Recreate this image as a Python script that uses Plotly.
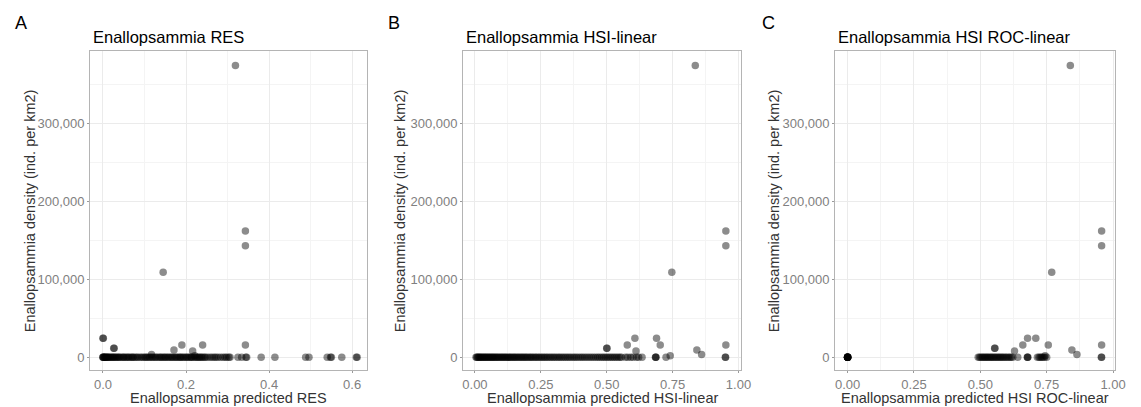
import plotly.graph_objects as go

# Sites with a non-zero Enallopsammia density and their predictions under each model
density_pos = [374000, 162000, 143000, 109000, 24400, 24400, 15800, 15800, 15800,
               11500, 11500, 9400, 8100, 3500, 2000]
res_pos = [0.319, 0.343, 0.343, 0.145, 0.000, 0.001, 0.190, 0.240, 0.343,
           0.026, 0.027, 0.171, 0.216, 0.117, 0.221]
hsi_pos = [0.836, 0.952, 0.952, 0.747, 0.607, 0.689, 0.578, 0.703, 0.952,
           0.500, 0.501, 0.842, 0.611, 0.860, 0.741]
roc_pos = [0.839, 0.957, 0.957, 0.769, 0.678, 0.709, 0.660, 0.756, 0.957,
           0.554, 0.555, 0.845, 0.629, 0.864, 0.744]

# Predictions at sites where no Enallopsammia were recorded (density = 0)
res_zero = [0.000, 0.000, 0.001, 0.002, 0.003, 0.005, 0.006, 0.008, 0.009, 0.011,
            0.013, 0.014, 0.017, 0.019, 0.022, 0.024, 0.026, 0.029, 0.031, 0.034,
            0.037, 0.039, 0.042, 0.046, 0.049, 0.051, 0.055, 0.058, 0.061, 0.064,
            0.068, 0.071, 0.073, 0.077, 0.081, 0.084, 0.089, 0.093, 0.097, 0.101,
            0.104, 0.107, 0.111, 0.114, 0.118, 0.121, 0.125, 0.128, 0.132, 0.136,
            0.139, 0.142, 0.146, 0.149, 0.152, 0.156, 0.159, 0.163, 0.166, 0.169,
            0.173, 0.176, 0.179, 0.183, 0.186, 0.188, 0.192, 0.195, 0.199, 0.202,
            0.205, 0.209, 0.212, 0.214, 0.218, 0.222, 0.225, 0.228, 0.231, 0.234,
            0.237, 0.240, 0.244, 0.247, 0.252, 0.258, 0.263, 0.268, 0.272, 0.277,
            0.283, 0.289, 0.294, 0.298, 0.303, 0.306, 0.325, 0.334, 0.344, 0.346,
            0.381, 0.414, 0.488, 0.496, 0.540, 0.548, 0.550, 0.575, 0.610, 0.612]
hsi_zero = [0.004, 0.007, 0.010, 0.013, 0.016, 0.019, 0.022, 0.026, 0.029, 0.033,
            0.036, 0.040, 0.043, 0.047, 0.051, 0.054, 0.058, 0.062, 0.066, 0.069,
            0.073, 0.077, 0.081, 0.085, 0.089, 0.093, 0.098, 0.102, 0.106, 0.111,
            0.115, 0.119, 0.124, 0.128, 0.133, 0.137, 0.142, 0.147, 0.151, 0.156,
            0.161, 0.166, 0.171, 0.176, 0.181, 0.186, 0.191, 0.196, 0.201, 0.207,
            0.212, 0.217, 0.223, 0.229, 0.234, 0.240, 0.246, 0.252, 0.258, 0.264,
            0.270, 0.276, 0.283, 0.289, 0.296, 0.302, 0.309, 0.316, 0.322, 0.329,
            0.336, 0.343, 0.350, 0.357, 0.364, 0.372, 0.379, 0.386, 0.394, 0.402,
            0.409, 0.417, 0.425, 0.433, 0.441, 0.449, 0.457, 0.465, 0.472, 0.480,
            0.487, 0.494, 0.501, 0.508, 0.515, 0.522, 0.529, 0.536, 0.543, 0.550,
            0.556, 0.571, 0.580, 0.591, 0.600, 0.613, 0.621, 0.634, 0.685, 0.686,
            0.687, 0.725, 0.950, 0.951]
roc_zero = [0.000, 0.000, 0.000, 0.000, 0.000, 0.000, 0.000, 0.000, 0.000, 0.000,
            0.492, 0.497, 0.502, 0.507, 0.511, 0.516, 0.520, 0.525, 0.529, 0.534,
            0.539, 0.543, 0.548, 0.553, 0.558, 0.563, 0.568, 0.573, 0.578, 0.583,
            0.588, 0.594, 0.599, 0.605, 0.611, 0.616, 0.622, 0.641, 0.677, 0.678,
            0.679, 0.715, 0.721, 0.726, 0.731, 0.736, 0.742, 0.750, 0.956, 0.957]

panels = [
    ("A", "Enallopsammia RES", "Enallopsammia predicted RES", res_pos, res_zero),
    ("B", "Enallopsammia HSI-linear", "Enallopsammia predicted HSI-linear", hsi_pos, hsi_zero),
    ("C", "Enallopsammia HSI ROC-linear", "Enallopsammia predicted HSI ROC-linear", roc_pos, roc_zero),
]

W, H = 1141, 407
# plot-area pixel boxes (left, right) and shared top/bottom
boxes = [(90, 370), (467, 748), (843, 1126)]
top_px, bot_px = 51, 370
x_ranges = [[-0.031, 0.636], [-0.045, 1.01], [-0.047, 1.008]]
x_dticks = [0.2, 0.25, 0.25]
x_formats = [".1f", ".2f", ".2f"]
ytitle_px = [29, 403, 781]
letter_px = [12, 389, 767]

FONT = "Liberation Sans, Arial, sans-serif"
PT_COLOR = "rgba(0,0,0,0.45)"
GRID = "#ebebeb"
MINOR = "#f4f4f4"
BORDER = "#b4b4b4"
TICKTXT = "#808080"

fig = go.Figure()
annotations = []
for i, (letter, title, xtitle, xpos, xzero) in enumerate(panels):
    n = "" if i == 0 else str(i + 1)
    xs = list(xzero) + list(xpos)
    ys = [0] * len(xzero) + list(density_pos)
    fig.add_trace(go.Scatter(
        x=xs, y=ys, mode="markers", xaxis="x" + n, yaxis="y" + n,
        marker=dict(size=7.5, color=PT_COLOR, line=dict(width=0)),
        showlegend=False, hoverinfo="x+y"))

    l, r = boxes[i]
    fig.layout["xaxis" + n] = dict(
        domain=[l / W, r / W], anchor="y" + n, range=x_ranges[i],
        tick0=0, dtick=x_dticks[i], tickformat=x_formats[i],
        showgrid=True, gridcolor=GRID, gridwidth=1,
        minor=dict(dtick=x_dticks[i] / 2, tick0=0, showgrid=True, gridcolor=MINOR, gridwidth=1),
        showline=True, mirror=True, linecolor=BORDER, linewidth=1,
        ticks="outside", ticklen=2, tickcolor="#9a9a9a",
        tickfont=dict(family=FONT, size=13, color=TICKTXT), zeroline=False)
    fig.layout["yaxis" + n] = dict(
        domain=[1 - bot_px / H, 1 - top_px / H], anchor="x" + n,
        range=[-16300, 392700], tick0=0, dtick=100000, tickformat=",d",
        showgrid=True, gridcolor=GRID, gridwidth=1,
        minor=dict(dtick=50000, tick0=0, showgrid=True, gridcolor=MINOR, gridwidth=1),
        showline=True, mirror=True, linecolor=BORDER, linewidth=1,
        ticks="outside", ticklen=2, tickcolor="#9a9a9a",
        tickfont=dict(family=FONT, size=13, color=TICKTXT), zeroline=False)

    annotations += [
        dict(text=letter, x=letter_px[i] / W, y=1 - 11 / H, xref="paper", yref="paper",
             xanchor="left", yanchor="top", showarrow=False,
             font=dict(family=FONT, size=18, color="black")),
        dict(text=title, x=(l + 1) / W, y=1 - 37 / H, xref="paper", yref="paper",
             xanchor="left", yanchor="middle", showarrow=False,
             font=dict(family=FONT, size=16.5, color="black")),
        dict(text="Enallopsammia density (ind. per km2)", x=ytitle_px[i] / W,
             y=1 - (top_px + bot_px) / 2 / H, xref="paper", yref="paper",
             xanchor="center", yanchor="middle", textangle=-90, showarrow=False,
             font=dict(family=FONT, size=14.5, color="#333333")),
        dict(text=xtitle, x=(l + r) / 2 / W, y=1 - 398 / H, xref="paper", yref="paper",
             xanchor="center", yanchor="middle", showarrow=False,
             font=dict(family=FONT, size=14.5, color="#333333")),
    ]

fig.update_layout(
    width=W, height=H, margin=dict(l=0, r=0, t=0, b=0),
    paper_bgcolor="white", plot_bgcolor="white",
    annotations=annotations, font=dict(family=FONT))

fig.write_html("out.html")
